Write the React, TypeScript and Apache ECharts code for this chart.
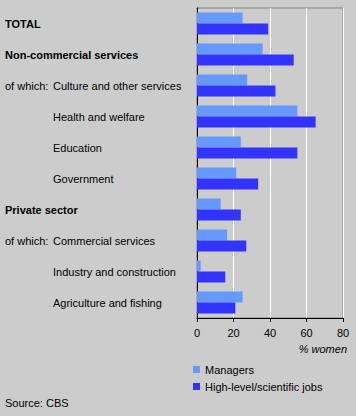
import React, { useEffect, useRef } from "react";
import * as echarts from "echarts";

const categories = [
  "TOTAL",
  "Non-commercial services",
  "Culture and other services",
  "Health and welfare",
  "Education",
  "Government",
  "Private sector",
  "Commercial services",
  "Industry and construction",
  "Agriculture and fishing",
];
const boldCats = ["TOTAL", "Non-commercial services", "Private sector"];
const ofWhichCats = ["Culture and other services", "Commercial services"];
const managers = [25, 36, 27.5, 55, 24, 21.5, 13, 16.5, 2, 25];
const highLevel = [39, 53, 43, 65, 55, 33.5, 24, 27, 15.5, 21];
const xTicks = { min: 0, max: 80, interval: 20 };

export default function App() {
  const ref = useRef<HTMLDivElement>(null);
  useEffect(() => {
    const chart = echarts.init(ref.current!, null, { renderer: "svg" });
    const font = "'Liberation Sans', Arial, sans-serif";
    chart.setOption({
      animation: false,
      backgroundColor: "#cccccc",
      textStyle: { fontFamily: font, fontSize: 11, color: "#000" },
      grid: {
        left: 197,
        top: 8,
        width: 146,
        height: 310,
        show: true,
        borderColor: "#808080",
        borderWidth: 1,
        backgroundColor: "transparent",
        containLabel: false,
      },
      title: {
        text: "Source: CBS",
        left: 5,
        top: 397,
        padding: 0,
        textStyle: { fontFamily: font, fontSize: 11, fontWeight: "normal", color: "#000" },
      },
      legend: {
        orient: "vertical",
        left: 193,
        top: 364,
        padding: 0,
        itemWidth: 7,
        itemHeight: 7,
        itemGap: 6,
        icon: "rect",
        textStyle: { fontFamily: font, fontSize: 11, color: "#000" },
        data: ["Managers", "High-level/scientific jobs"],
      },
      graphic: [
        {
          type: "text",
          right: 9,
          top: 343,
          style: { text: "% women", font: "italic 11px " + font, fill: "#000" },
        },
      ],
      xAxis: {
        type: "value",
        min: xTicks.min,
        max: xTicks.max,
        interval: xTicks.interval,
        axisLine: { show: true, lineStyle: { color: "#000", width: 1 } },
        axisTick: { show: true, length: 4, lineStyle: { color: "#000" } },
        axisLabel: { color: "#000", fontFamily: font, fontSize: 11, margin: 9 },
        splitLine: { show: true, lineStyle: { color: "#ffffff", width: 1 } },
      },
      yAxis: {
        type: "category",
        data: categories,
        inverse: true,
        axisLine: { show: true, onZero: false, lineStyle: { color: "#000", width: 1 } },
        axisTick: { show: false },
        axisLabel: {
          align: "left",
          margin: 192,
          color: "#000",
          fontFamily: font,
          fontSize: 11,
          formatter: (v: string) => {
            if (boldCats.includes(v)) return "{b|" + v + "}";
            if (ofWhichCats.includes(v)) return "{ow|of which:}{n|" + v + "}";
            return "{ind|" + v + "}";
          },
          rich: {
            b: { fontWeight: "bold", fontFamily: font, fontSize: 11, color: "#000" },
            ow: { width: 48, fontFamily: font, fontSize: 11, color: "#000" },
            n: { fontFamily: font, fontSize: 11, color: "#000" },
            ind: { padding: [0, 0, 0, 48], fontFamily: font, fontSize: 11, color: "#000" },
          },
        },
        splitLine: { show: false },
      },
      series: [
        {
          name: "Managers",
          type: "bar",
          data: managers,
          barWidth: 11,
          barGap: "0%",
          itemStyle: { color: "#6699ff" },
        },
        {
          name: "High-level/scientific jobs",
          type: "bar",
          data: highLevel,
          barWidth: 11,
          barGap: "0%",
          itemStyle: { color: "#3333ff" },
        },
      ],
    });
    return () => chart.dispose();
  }, []);
  return (
    <div
      ref={ref}
      style={{ position: "fixed", left: 0, top: 0, width: 356, height: 416 }}
    />
  );
}
